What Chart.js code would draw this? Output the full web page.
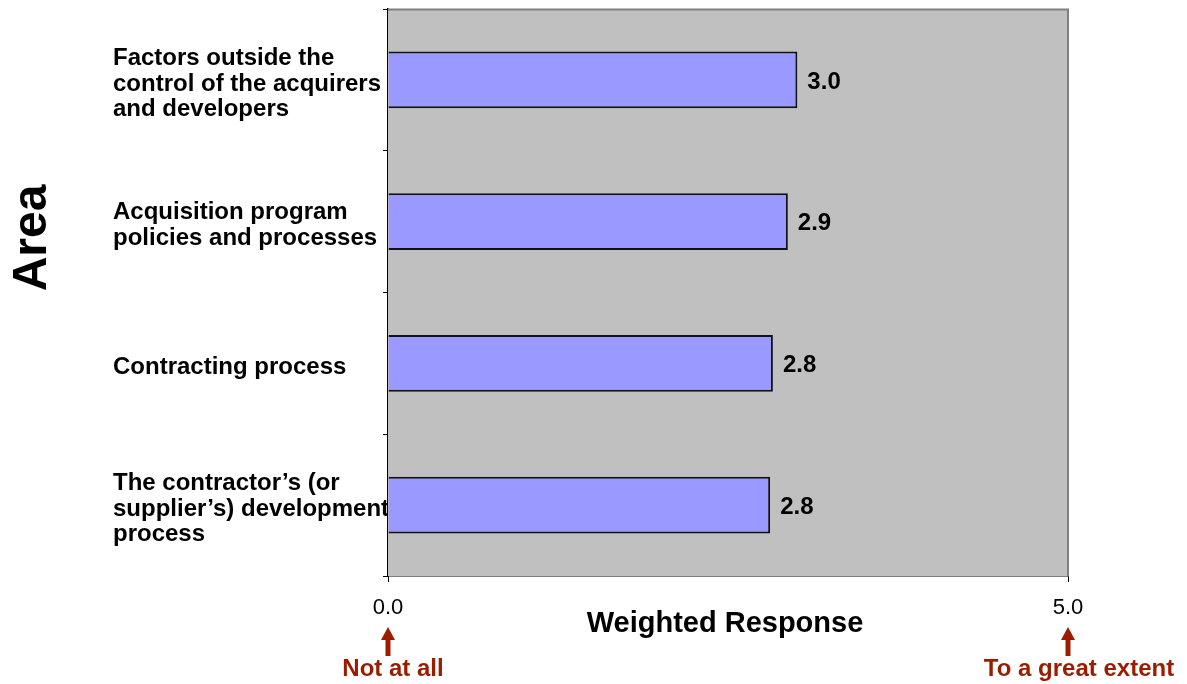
<!DOCTYPE html>
<html>
<head>
<meta charset="utf-8">
<script src="https://cdn.jsdelivr.net/npm/chart.js@4/dist/chart.umd.min.js"></script>
<style>
  html, body { margin: 0; padding: 0; background: #ffffff; }
  #wrap { width: 1187px; height: 684px; position: relative; }
</style>
</head>
<body>
<div id="wrap"><canvas id="areaChart"></canvas></div>
<script>
const categories = [
    ["Factors outside the", "control of the acquirers", "and developers"],
    ["Acquisition program", "policies and processes"],
    ["Contracting process"],
    ["The contractor\u2019s (or", "supplier\u2019s) development", "process"]
];
const weightedResponse = [3.01, 2.94, 2.83, 2.81];
const xTickValues = [0, 5];
const scaleEndLabels = ["Not at all", "To a great extent"];

const FONT = "Arial, 'Liberation Sans', sans-serif";
const darkRed = '#9c1c00';

// grey plot background + border, drawn before the bars
const plotBackground = {
    id: 'plotBackground',
    beforeDatasetsDraw(chart) {
        const { ctx, chartArea: a } = chart;
        ctx.save();
        ctx.fillStyle = '#c0c0c0';
        ctx.fillRect(a.left, a.top, a.right - a.left, a.bottom - a.top);
        ctx.strokeStyle = '#808080';
        ctx.lineWidth = 2;
        ctx.beginPath();
        ctx.moveTo(a.left, a.top + 0.5);
        ctx.lineTo(a.right, a.top + 0.5);
        ctx.lineTo(a.right, a.bottom);
        ctx.stroke();
        ctx.restore();
    }
};

// value labels, axis titles and the scale-end arrows
const annotations = {
    id: 'annotations',
    afterDraw(chart) {
        const { ctx, chartArea: a } = chart;
        const xs = chart.scales.x;
        ctx.save();

        // value labels at bar ends
        const meta = chart.getDatasetMeta(0);
        ctx.fillStyle = '#000';
        ctx.font = 'bold 24px ' + FONT;
        ctx.textAlign = 'left';
        ctx.textBaseline = 'middle';
        meta.data.forEach((bar, i) => {
            ctx.fillText(weightedResponse[i].toFixed(1), bar.x + 10, bar.y + 2);
        });

        // y title
        ctx.save();
        ctx.translate(33, 238);
        ctx.rotate(-Math.PI / 2);
        ctx.font = 'bold 48px ' + FONT;
        ctx.textAlign = 'center';
        ctx.textBaseline = 'middle';
        ctx.fillText('Area', 0, 0);
        ctx.restore();

        // x title
        ctx.font = 'bold 29px ' + FONT;
        ctx.textAlign = 'center';
        ctx.textBaseline = 'middle';
        ctx.fillText('Weighted Response', (a.left + a.right) / 2 - 3, 624);

        // arrows
        ctx.fillStyle = darkRed;
        ctx.font = 'bold 24px ' + FONT;
        const textX = [5, 11];
        xTickValues.forEach((v, i) => {
            const x = xs.getPixelForValue(v);
            ctx.beginPath();
            ctx.moveTo(x, 627);
            ctx.lineTo(x + 7, 640);
            ctx.lineTo(x + 2.5, 640);
            ctx.lineTo(x + 2.5, 656);
            ctx.lineTo(x - 2.5, 656);
            ctx.lineTo(x - 2.5, 640);
            ctx.lineTo(x - 7, 640);
            ctx.closePath();
            ctx.fill();
            ctx.fillText(scaleEndLabels[i], x + textX[i], 669);
        });
        ctx.restore();
    }
};

new Chart(document.getElementById('areaChart'), {
    type: 'bar',
    data: {
        labels: categories,
        datasets: [{
            data: weightedResponse,
            backgroundColor: '#9999ff',
            borderColor: '#111111',
            borderWidth: 2,
            categoryPercentage: 1,
            barPercentage: 0.4
        }]
    },
    options: {
        indexAxis: 'y',
        responsive: true,
        maintainAspectRatio: false,
        animation: false,
        layout: { padding: { left: 113, top: 9, right: 119, bottom: 0 } },
        plugins: { legend: { display: false }, tooltip: { enabled: false } },
        scales: {
            y: {
                afterFit(scale) {
                    scale.width = 275;
                    scale.paddingTop = 0;
                    scale.paddingBottom = 0;
                },
                border: { color: '#000', width: 1.5 },
                grid: { drawOnChartArea: false, color: '#000', tickLength: 5, offset: true },
                ticks: {
                    crossAlign: 'far',
                    labelOffset: 4,
                    color: '#000',
                    font: { family: FONT, size: 24, weight: 'bold', lineHeight: 1.07 }
                }
            },
            x: {
                min: 0,
                max: 5,
                afterFit(scale) {
                    scale.height = 108;
                    scale.paddingLeft = 0;
                    scale.paddingRight = 0;
                },
                afterBuildTicks(scale) { scale.ticks = xTickValues.map(v => ({ value: v })); },
                border: { color: '#000', width: 1.5 },
                grid: { drawOnChartArea: false, color: '#000', tickLength: 6 },
                ticks: {
                    padding: 13,
                    color: '#000',
                    callback: v => v.toFixed(1),
                    font: { family: FONT, size: 22 }
                }
            }
        }
    },
    plugins: [plotBackground, annotations]
});
</script>
</body>
</html>
